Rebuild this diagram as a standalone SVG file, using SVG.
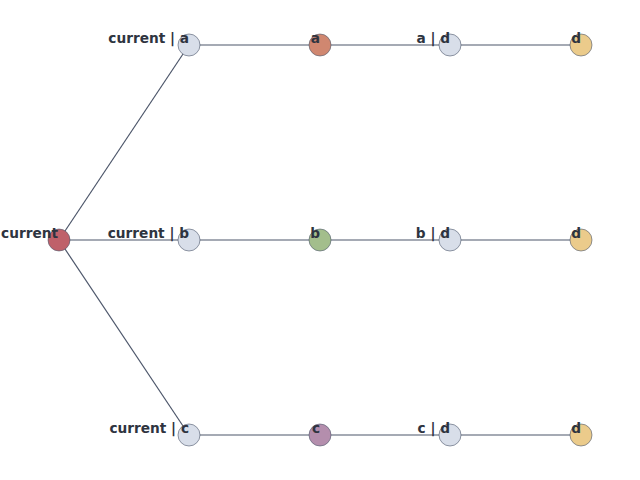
<svg xmlns="http://www.w3.org/2000/svg" width="640" height="480" viewBox="0 0 640 480">
<style>
.e{stroke:#4c566a;stroke-width:1.2;fill:none}
.n{stroke:#4c566a;stroke-width:0.6}
.t{font-family:"DejaVu Sans",sans-serif;font-weight:bold;font-size:13.7px;fill:#2e3440;text-anchor:end}
</style>
<rect width="640" height="480" fill="#ffffff"/>
<g id="edges">
<line class="e" x1="59" y1="240" x2="189" y2="45"/>
<line class="e" x1="59" y1="240" x2="189" y2="240"/>
<line class="e" x1="59" y1="240" x2="189" y2="435"/>
<line class="e" x1="189" y1="45" x2="581" y2="45"/>
<line class="e" x1="189" y1="240" x2="581" y2="240"/>
<line class="e" x1="189" y1="435" x2="581" y2="435"/>
</g>
<g id="n_current"><circle class="n" cx="59" cy="240" r="11" fill="#bf616a"/><text class="t" x="58" y="238">current</text></g>
<g id="n_current_a"><circle class="n" cx="189" cy="45" r="11" fill="#d8dee9"/><text class="t" x="189" y="43">current | a</text></g>
<g id="n_a"><circle class="n" cx="320" cy="45" r="11" fill="#d08770"/><text class="t" x="320" y="43">a</text></g>
<g id="n_a_d"><circle class="n" cx="450" cy="45" r="11" fill="#d8dee9"/><text class="t" x="450" y="43">a | d</text></g>
<g id="n_d1"><circle class="n" cx="581" cy="45" r="11" fill="#ebcb8b"/><text class="t" x="581" y="43">d</text></g>
<g id="n_current_b"><circle class="n" cx="189" cy="240" r="11" fill="#d8dee9"/><text class="t" x="189" y="238">current | b</text></g>
<g id="n_b"><circle class="n" cx="320" cy="240" r="11" fill="#a3be8c"/><text class="t" x="320" y="238">b</text></g>
<g id="n_b_d"><circle class="n" cx="450" cy="240" r="11" fill="#d8dee9"/><text class="t" x="450" y="238">b | d</text></g>
<g id="n_d2"><circle class="n" cx="581" cy="240" r="11" fill="#ebcb8b"/><text class="t" x="581" y="238">d</text></g>
<g id="n_current_c"><circle class="n" cx="189" cy="435" r="11" fill="#d8dee9"/><text class="t" x="189" y="433">current | c</text></g>
<g id="n_c"><circle class="n" cx="320" cy="435" r="11" fill="#b48ead"/><text class="t" x="320" y="433">c</text></g>
<g id="n_c_d"><circle class="n" cx="450" cy="435" r="11" fill="#d8dee9"/><text class="t" x="450" y="433">c | d</text></g>
<g id="n_d3"><circle class="n" cx="581" cy="435" r="11" fill="#ebcb8b"/><text class="t" x="581" y="433">d</text></g>
</svg>
